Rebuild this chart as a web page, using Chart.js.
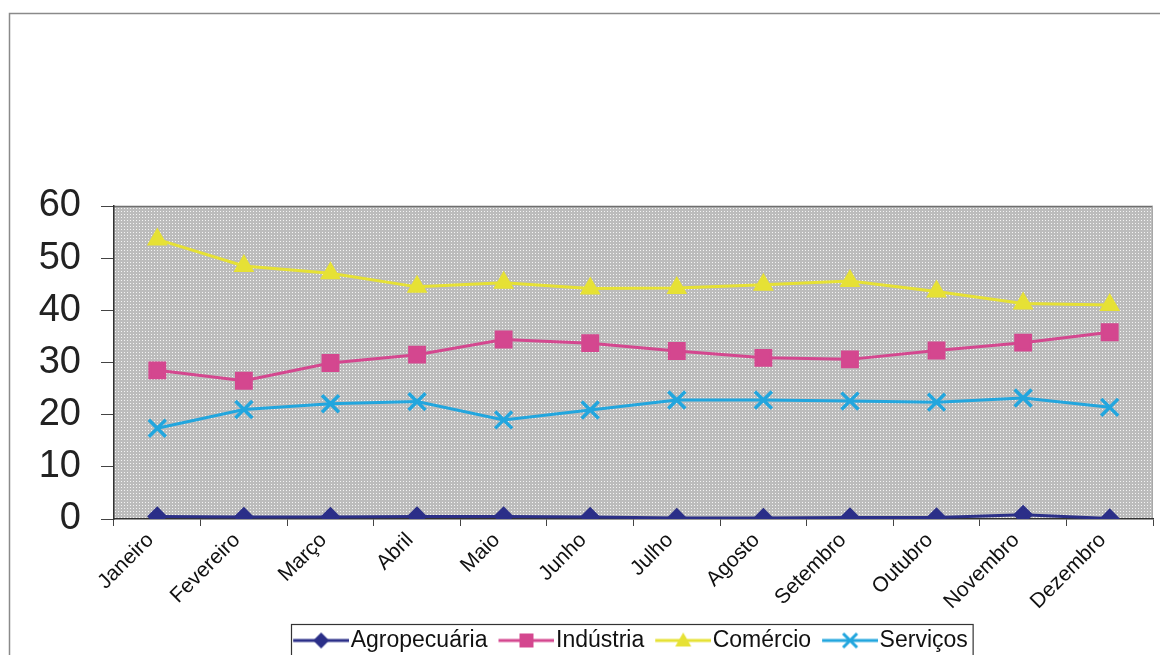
<!DOCTYPE html>
<html>
<head>
<meta charset="utf-8">
<script src="https://cdn.jsdelivr.net/npm/chart.js@4.4.0/dist/chart.umd.min.js"></script>
<style>
  html, body { margin: 0; padding: 0; background: #fff; }
</style>
</head>
<body>
<canvas id="grafico" width="1160" height="655"></canvas>
<script>
// dados
const meses = ["Janeiro", "Fevereiro", "Março", "Abril", "Maio", "Junho",
               "Julho", "Agosto", "Setembro", "Outubro", "Novembro", "Dezembro"];
const agropecuaria = [0.5, 0.4, 0.4, 0.5, 0.5, 0.4, 0.2, 0.2, 0.3, 0.3, 0.8, 0.1];
const industria = [28.5, 26.5, 29.9, 31.5, 34.4, 33.7, 32.2, 30.9, 30.6, 32.3, 33.8, 35.8];
const comercio = [53.6, 48.5, 47.1, 44.5, 45.3, 44.2, 44.3, 44.9, 45.6, 43.6, 41.3, 41.0];
const servicos = [17.4, 21.0, 22.1, 22.5, 19.0, 20.9, 22.8, 22.8, 22.6, 22.4, 23.2, 21.4];
const eixoY = { min: 0, max: 60, passo: 10 };

const cores = ["#2b2f88", "#d4478f", "#e6e135", "#22a6de"];
const fonte = "'Liberation Sans', Arial, sans-serif";

// fundo cinza pontilhado da area do grafico
function criaPadrao(ctx) {
    const t = document.createElement("canvas");
    t.width = 3; t.height = 3;
    const g = t.getContext("2d");
    g.fillStyle = "#bcbcbc";
    g.fillRect(0, 0, 3, 3);
    g.fillStyle = "#f4f4f4";
    g.fillRect(1, 1, 1, 1);
    return ctx.createPattern(t, "repeat");
}

// icones da legenda: linha + marcador
function icone(cor, tipo) {
    const c = document.createElement("canvas");
    c.width = 62; c.height = 26;
    const g = c.getContext("2d");
    const cx = 34, cy = 13;
    g.strokeStyle = cor;
    g.fillStyle = cor;
    g.lineWidth = 3;
    g.beginPath(); g.moveTo(6, cy); g.lineTo(62, cy); g.stroke();
    g.beginPath();
    if (tipo === "diamante") {
        g.moveTo(cx, cy - 8); g.lineTo(cx + 8, cy); g.lineTo(cx, cy + 8); g.lineTo(cx - 8, cy);
        g.closePath(); g.fill();
    } else if (tipo === "quadrado") {
        g.fillRect(cx - 7, cy - 7, 14, 14);
    } else if (tipo === "triangulo") {
        g.moveTo(cx, cy - 8); g.lineTo(cx + 8, cy + 6); g.lineTo(cx - 8, cy + 6);
        g.closePath(); g.fill();
    } else {
        g.moveTo(cx - 7, cy - 7); g.lineTo(cx + 7, cy + 7);
        g.moveTo(cx + 7, cy - 7); g.lineTo(cx - 7, cy + 7);
        g.stroke();
    }
    return c;
}
const icones = [
    icone(cores[0], "diamante"),
    icone(cores[1], "quadrado"),
    icone(cores[2], "triangulo"),
    icone(cores[3], "xis")
];

const molduras = {
    id: "molduras",
    afterLayout(chart) {
        // area de plotagem vai ate 7px da borda direita, como no original
        const dir = chart.width - 7;
        const area = chart.chartArea;
        area.right = dir;
        area.width = dir - area.left;
        const x = chart.scales.x;
        x.right = dir;
        x.width = dir - x.left;
        x.configure();
        // desloca a legenda para a posicao do original
        const lg = chart.legend;
        lg.left += 50; lg.right += 50;
        lg.top -= 4; lg.bottom -= 4;
    },
    beforeDraw(chart) {
        const ctx = chart.ctx;
        const a = chart.chartArea;
        ctx.save();
        ctx.fillStyle = "#fff";
        ctx.fillRect(0, 0, chart.width, chart.height);
        // moldura externa
        ctx.strokeStyle = "#8a8a8a";
        ctx.lineWidth = 1.5;
        ctx.beginPath();
        ctx.moveTo(9.5, chart.height + 5);
        ctx.lineTo(9.5, 13.5);
        ctx.lineTo(chart.width + 5, 13.5);
        ctx.stroke();
        // area de plotagem
        ctx.fillStyle = criaPadrao(ctx);
        ctx.fillRect(a.left, a.top, a.right - a.left, a.bottom - a.top);
        ctx.strokeStyle = "#6e6e6e";
        ctx.lineWidth = 1.5;
        ctx.beginPath();
        ctx.moveTo(a.left, a.top + 0.5);
        ctx.lineTo(a.right, a.top + 0.5);
        ctx.stroke();
        ctx.strokeStyle = "#a8a8a8";
        ctx.lineWidth = 1;
        ctx.beginPath();
        ctx.moveTo(a.right - 0.5, a.top);
        ctx.lineTo(a.right - 0.5, a.bottom);
        ctx.stroke();
        ctx.restore();
    },
    afterDraw(chart) {
        // caixa da legenda
        const hb = chart.legend.legendHitBoxes;
        if (!hb || !hb.length) return;
        const ultimo = hb[hb.length - 1];
        const esq = hb[0].left - 6;
        const dir = ultimo.left + ultimo.width + 5;
        const topo = hb[0].top - 5;
        const ctx = chart.ctx;
        ctx.save();
        ctx.strokeStyle = "#333";
        ctx.lineWidth = 1.2;
        ctx.strokeRect(Math.round(esq) + 0.5, Math.round(topo) + 0.5, dir - esq, 60);
        ctx.restore();
    }
};

const ctx = document.getElementById("grafico").getContext("2d");

new Chart(ctx, {
    type: "line",
    data: {
        labels: meses,
        datasets: [
            {
                label: "Agropecuária",
                data: agropecuaria,
                borderColor: cores[0],
                backgroundColor: cores[0],
                pointStyle: "rectRot",
                pointRadius: 8,
                borderWidth: 3
            },
            {
                label: "Indústria",
                data: industria,
                borderColor: cores[1],
                backgroundColor: cores[1],
                pointStyle: "rect",
                pointRadius: 10.5,
                borderWidth: 3
            },
            {
                label: "Comércio",
                data: comercio,
                borderColor: cores[2],
                backgroundColor: cores[2],
                pointStyle: "triangle",
                pointRadius: 9,
                borderWidth: 3
            },
            {
                label: "Serviços",
                data: servicos,
                borderColor: cores[3],
                backgroundColor: cores[3],
                pointStyle: "crossRot",
                pointRadius: 12,
                pointBorderWidth: 3.5,
                borderWidth: 3
            }
        ]
    },
    options: {
        responsive: false,
        animation: false,
        devicePixelRatio: 1,
        layout: {
            padding: { top: 206, left: 12, right: 7, bottom: -11 }
        },
        elements: {
            line: { tension: 0 },
            point: { borderWidth: 1 }
        },
        scales: {
            x: {
                offset: true,
                afterFit: function (scale) {
                    scale.height = 99;
                    scale.paddingLeft = 0;
                    scale.paddingRight = 0;
                },
                grid: {
                    drawOnChartArea: false,
                    offset: true,
                    tickLength: 7,
                    color: "#444"
                },
                border: { color: "#333", width: 1.5 },
                ticks: {
                    minRotation: 45,
                    maxRotation: 45,
                    padding: 2,
                    labelOffset: -7,
                    color: "#111",
                    font: { family: fonte, size: 21 }
                }
            },
            y: {
                min: eixoY.min,
                max: eixoY.max,
                afterFit: function (scale) { scale.width = 102; },
                grid: {
                    drawOnChartArea: false,
                    tickLength: 13,
                    color: "#444"
                },
                border: { color: "#333", width: 1.5 },
                ticks: {
                    stepSize: eixoY.passo,
                    padding: 20,
                    color: "#222",
                    font: { family: fonte, size: 38 }
                }
            }
        },
        plugins: {
            tooltip: { enabled: false },
            legend: {
                position: "bottom",
                labels: {
                    usePointStyle: true,
                    pointStyleWidth: 42,
                    padding: 15,
                    color: "#111",
                    font: { family: fonte, size: 23 },
                    generateLabels: function (chart) {
                        const itens = Chart.defaults.plugins.legend.labels.generateLabels(chart);
                        itens.forEach(function (it, i) { it.pointStyle = icones[i]; });
                        return itens;
                    }
                }
            }
        }
    },
    plugins: [molduras]
});
</script>
</body>
</html>
